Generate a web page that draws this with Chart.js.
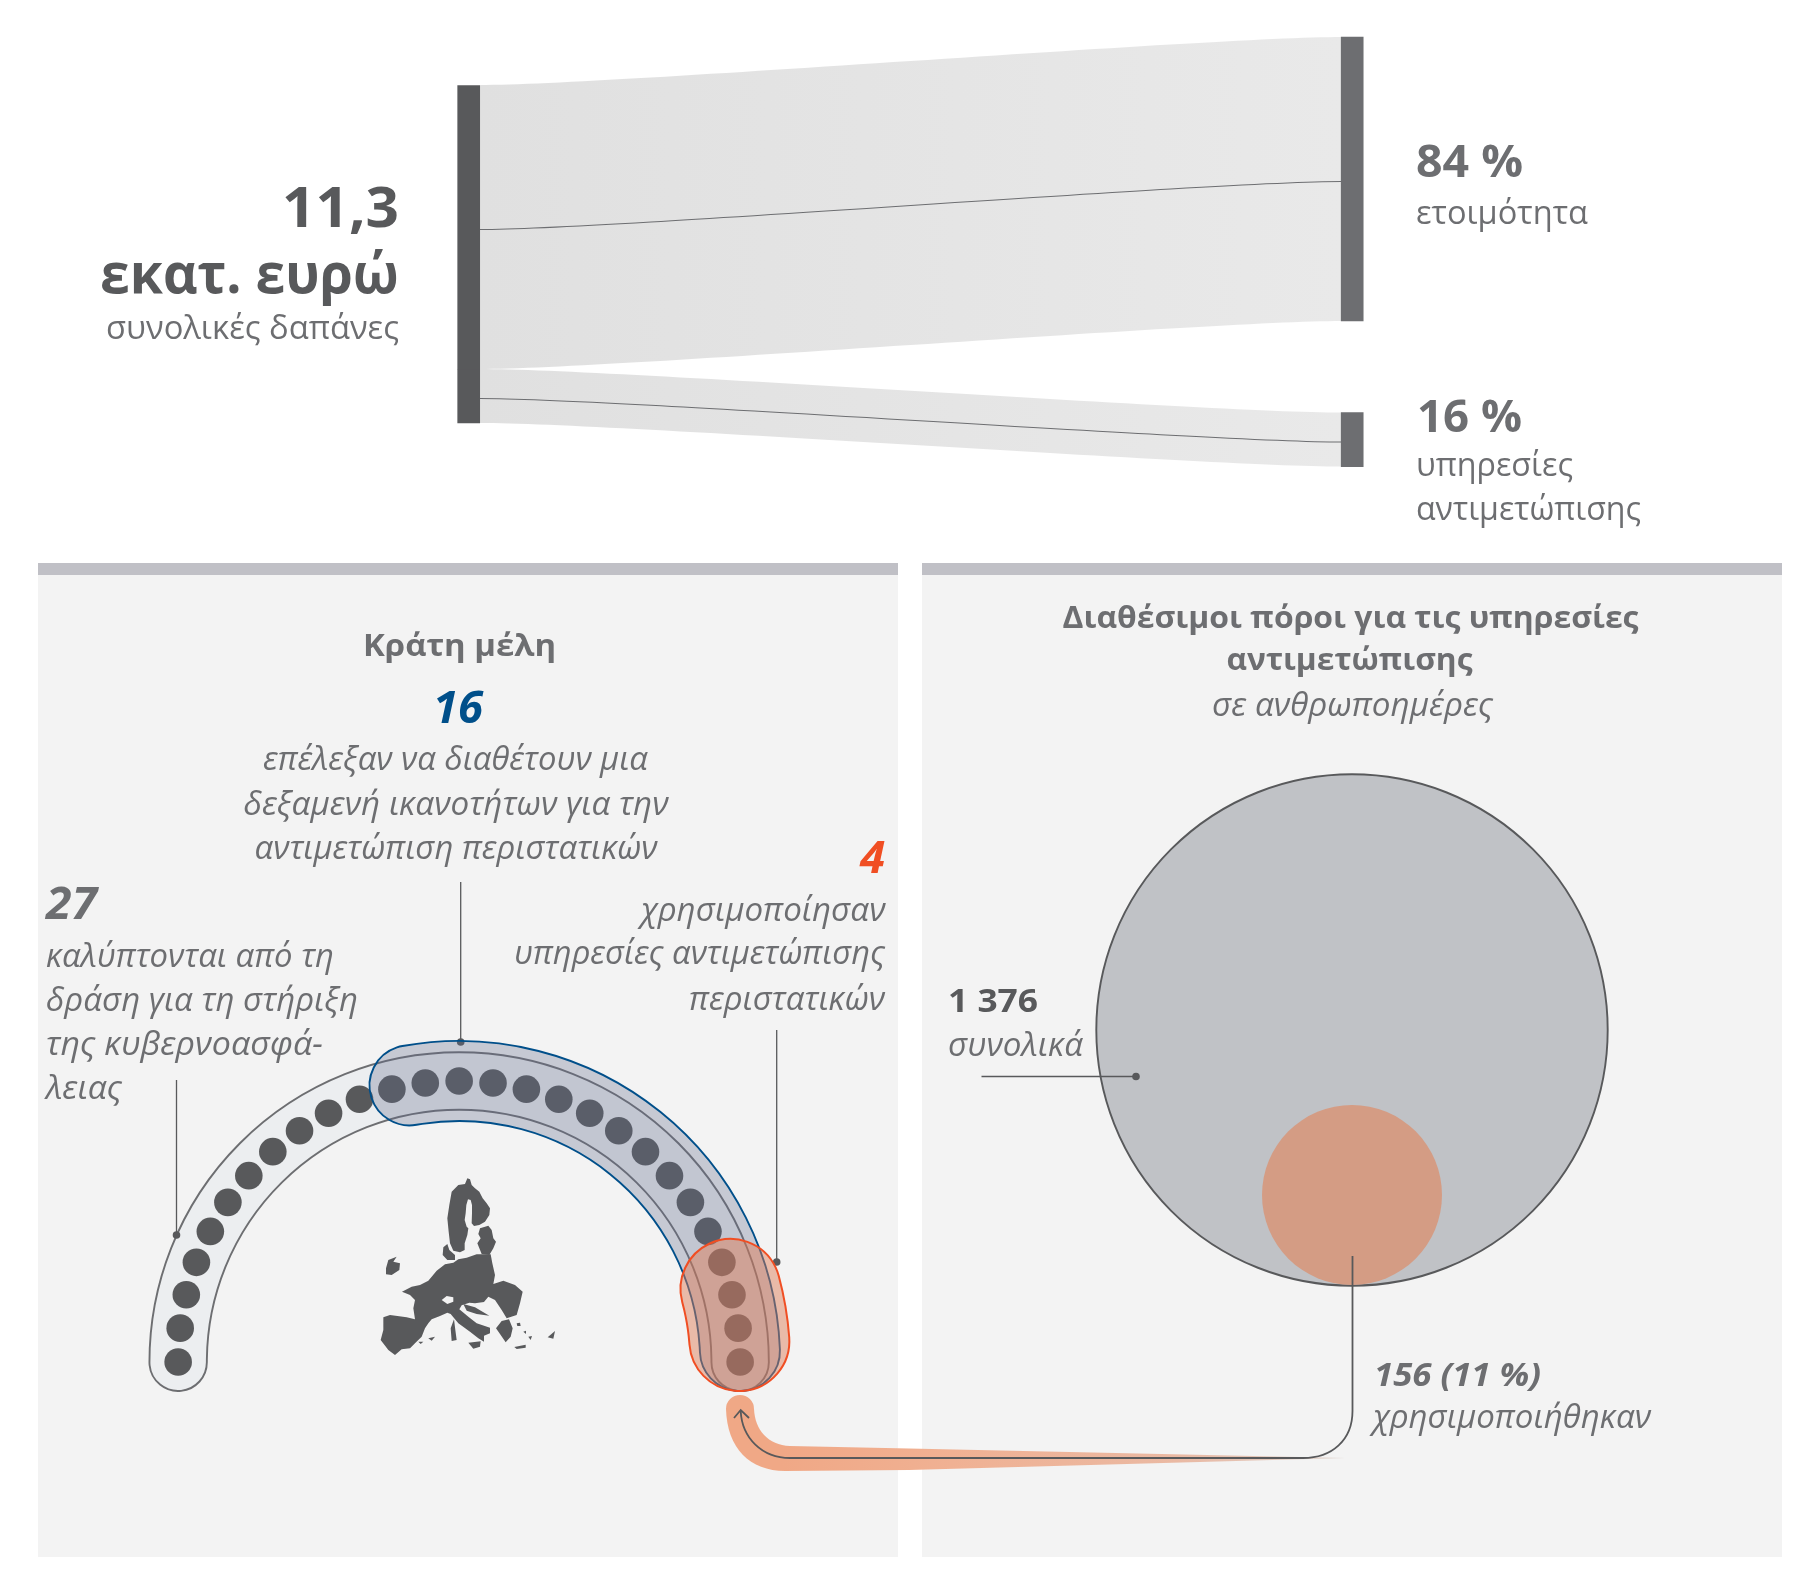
<!DOCTYPE html>
<html>
<head>
<meta charset="utf-8">
<script src="https://cdn.jsdelivr.net/npm/chart.js@4"></script>
<style>
html, body { margin: 0; padding: 0; background: #fff; overflow: hidden; }
#page { position: relative; width: 1818px; height: 1594px; overflow: hidden; }
#page canvas { position: absolute; left: 0; top: 0; }
.panel { position: absolute; top: 563px; height: 994px; width: 860px; background: #f3f3f3; }
.strip { height: 12px; background: #c0c0c6; }
</style>
</head>
<body>
<div id="page">
  <div class="panel" style="left:37.5px"><div class="strip"></div></div>
  <div class="panel" style="left:922px"><div class="strip"></div></div>
  <canvas id="bandAll" width="1818" height="1594"></canvas>
  <canvas id="mainChart" width="1818" height="1594"></canvas>
  <canvas id="bandPool" width="1818" height="1594"></canvas>
  <canvas id="bandUsed" width="1818" height="1594"></canvas>
</div>
<script>
'use strict'
// values
const spendShares = [84, 16];
const shareNames = ['ετοιμότητα', 'υπηρεσίες αντιμετώπισης'];
const statesCovered = 27;
const statesPool = 16;
const statesUsed = 4;
const personDays = [1376, 156];

const INK = '#58595b';
const GREY = '#6d6e71';
const BLUE = '#004f8a';
const RED = '#f04e23';

// sankey layout, px
const leftTop = 85;
const rightTops = [37, 412.5];
const pxPerPct = 3.38;
const linkX0 = 480;
const linkX1 = 1341.5;
const linkBend = 0.15;

// hemicycle layout, px
const hemiX = 459.15;
const hemiY = 1362;
const hemiR = 281;
const slotDeg = 180 / (statesCovered - 1);
const pxPerSlot = hemiR * Math.PI / 180 * slotDeg;

Chart.defaults.animation = false;
Chart.defaults.events = [];

// ---- sankey datasets ----
function sankeyDatasets(ctx) {
    let sets = [];
    let grad = ctx.createLinearGradient(linkX0, 0, linkX1, 0);
    grad.addColorStop(0, '#e0e0e0');
    grad.addColorStop(1, '#e9e9e9');
    let y0 = leftTop;
    spendShares.forEach((share, i) => {
        let h = share * pxPerPct;
        let y1 = rightTops[i];
        sets.push({ type: 'line', sCurve: true, data: [{ x: linkX0, y: y0 }, { x: linkX1, y: y1 }], borderWidth: 0, pointRadius: 0, tension: 0.4, backgroundColor: grad, fill: { target: '+1' }, order: 6 });
        sets.push({ type: 'line', sCurve: true, data: [{ x: linkX0, y: y0 + h }, { x: linkX1, y: y1 + h }], borderWidth: 0, pointRadius: 0, tension: 0.4, fill: false, order: 7 });
        sets.push({ type: 'line', sCurve: true, data: [{ x: linkX0, y: y0 + h / 2 + 2.5 }, { x: linkX1, y: y1 + h / 2 + 2.5 }], borderColor: GREY, borderWidth: 1.1, pointRadius: 0, tension: 0.4, fill: false, order: 5 });
        sets.push({ type: 'bar', data: [{ x: 468.7, y: [y0 + 0.5, y0 + h] }], backgroundColor: INK, barThickness: 22, grouped: false, order: 4 });
        sets.push({ type: 'bar', data: [{ x: 1352.2, y: [y1, y1 + h] }], backgroundColor: GREY, barThickness: 22, grouped: false, order: 4 });
        y0 += h;
    });
    return sets;
}

// one dot per member state, along the half circle
function stateDots() {
    let pts = [];
    for (let i = 0; i < statesCovered; i++) {
        let a = Math.PI - i * slotDeg * Math.PI / 180;
        pts.push({ x: hemiX + hemiR * Math.cos(a), y: hemiY - hemiR * Math.sin(a) });
    }
    return pts;
}

// line elements with two points get a horizontal-tangent link curve
const sCurvePlugin = {
    id: 'sCurve',
    afterDatasetsUpdate(chart) {
        chart.data.datasets.forEach((ds, i) => {
            if (!ds.sCurve) return;
            let meta = chart.getDatasetMeta(i);
            meta.dataset.updateControlPoints(chart.chartArea, 'x');
            let p = meta.data;
            let d = (p[1].x - p[0].x) * linkBend;
            p[0].cp2x = p[0].x + d; p[0].cp2y = p[0].y;
            p[1].cp1x = p[1].x - d; p[1].cp1y = p[1].y;
        });
    }
};

// ---- EU silhouette, traced at 3x around (360,1160) ----
const mapShapes = [
    [322,55,330,58,335,75,345,85,358,95,368,115,380,130,390,145,388,165,375,185,358,195,342,198,335,190,336,160,336,135,332,120,324,118,319,135,317,160,314,180,320,200,325,205,322,225,314,250,314,270,300,277,280,272,270,250,266,215,262,175,268,135,275,95,295,75,315,72],
    [360,205,385,197,395,210,400,235,408,245,400,265,388,285,365,282,352,250,362,235,355,222],
    [250,262,262,252,268,270,285,285,285,300,262,300,248,285],
    [78,325,85,300,110,290,100,305,120,310,118,330,95,345,78,343],
    [392,283,397,310,405,345,400,372,430,362,465,375,488,395,480,430,470,465,440,475,425,450,405,420,385,410,372,426,345,430,328,428,305,436,298,448,325,470,350,490,390,503,390,520,372,527,372,545,355,535,330,515,295,490,272,462,262,458,240,468,215,478,205,490,195,505,185,530,165,550,150,565,125,568,105,585,85,570,62,540,70,510,70,472,90,465,140,472,165,478,160,445,165,420,150,405,126,395,155,380,180,375,205,362,230,332,255,313,280,308,295,298,320,293,350,283],
    [310,432,345,442,388,467,350,462,320,452],
    [408,505,425,483,447,478,458,505,452,530,437,547,420,522],
    [463,561,497,554,497,563,470,567],
    [563,532,585,513,580,536],
    [325,548,362,544,360,560,340,566],
    [272,505,282,478,286,510,290,540,275,543],
    [205,535,225,530,215,542],
    [175,545,190,545,182,552],
    [470,490,480,488,482,498,472,498],
    [490,515,498,512,498,522],
    [505,530,516,528,512,540]
];
const mapHole = [245,420,260,408,280,412,280,425,262,432];

function fillPoly(ctx, pts) {
    ctx.beginPath();
    for (let i = 0; i < pts.length; i += 2) {
        if (i === 0) ctx.moveTo(pts[0], pts[1]);
        else ctx.lineTo(pts[i], pts[i + 1]);
    }
    ctx.closePath();
    ctx.fill();
}

// ---- leader lines, flow arrow, map ----
const decorPlugin = {
    id: 'decor',
    beforeDatasetsDraw(chart) {
        let ctx = chart.ctx;
        ctx.save();
        // tapered orange flow
        let g = ctx.createLinearGradient(783, 0, 1345, 0);
        g.addColorStop(0, '#f0a886');
        g.addColorStop(0.3, '#f0b193');
        g.addColorStop(0.7, '#eab9a3');
        g.addColorStop(1, '#dcd0ca');
        ctx.fillStyle = g;
        ctx.beginPath();
        ctx.moveTo(726, 1409);
        ctx.bezierCurveTo(727, 1448, 750, 1471, 785, 1471);
        ctx.lineTo(909, 1470);
        ctx.lineTo(1345, 1458);
        ctx.lineTo(909, 1448.5);
        ctx.lineTo(790, 1446);
        ctx.bezierCurveTo(768, 1445, 755, 1430, 754, 1409);
        ctx.arc(740, 1409, 14, 0, Math.PI, true);
        ctx.closePath();
        ctx.fill();
        // map
        ctx.save();
        ctx.translate(360, 1160);
        ctx.scale(1 / 3, 1 / 3);
        ctx.fillStyle = INK;
        mapShapes.forEach(s => fillPoly(ctx, s));
        ctx.fillStyle = '#f3f3f3';
        fillPoly(ctx, mapHole);
        ctx.restore();
        ctx.restore();
    },
    afterDatasetsDraw(chart) {
        let ctx = chart.ctx;
        ctx.save();
        ctx.strokeStyle = INK;
        ctx.fillStyle = INK;
        ctx.lineWidth = 1.3;
        let leaders = [
            [176.5, 1080, 176.5, 1235],
            [460.7, 882, 460.7, 1042],
            [776.7, 1030, 776.7, 1262],
            [981.5, 1076.5, 1136, 1076.5]
        ];
        leaders.forEach(l => {
            ctx.beginPath();
            ctx.moveTo(l[0], l[1]);
            ctx.lineTo(l[2], l[3]);
            ctx.stroke();
            ctx.beginPath();
            ctx.arc(l[2], l[3], 3.8, 0, Math.PI * 2);
            ctx.fill();
        });
        // line from the small circle back to the hemicycle
        ctx.lineWidth = 1.8;
        ctx.beginPath();
        ctx.moveTo(1352.5, 1256);
        ctx.lineTo(1352.5, 1411);
        ctx.bezierCurveTo(1352.5, 1440, 1332, 1458, 1303, 1458);
        ctx.lineTo(790, 1458);
        ctx.bezierCurveTo(762, 1458, 742, 1438, 740.7, 1411);
        ctx.stroke();
        ctx.beginPath();
        ctx.moveTo(734, 1418);
        ctx.lineTo(740.7, 1410);
        ctx.lineTo(749, 1418);
        ctx.stroke();
        ctx.restore();
    }
};

// ---- texts: left edge, baseline, ink width, size ----
const texts = [
    { t: '11,3', x: 282, y: 227, w: 117, size: 56, bold: 1, c: INK },
    { t: 'εκατ. ευρώ', x: 100, y: 293, w: 299, size: 56, bold: 1, c: INK },
    { t: 'συνολικές δαπάνες', x: 106, y: 339, w: 293, size: 33, c: GREY },
    { t: spendShares[0] + ' %', x: 1416, y: 177, w: 107, size: 45, bold: 1, c: GREY },
    { t: shareNames[0], x: 1416, y: 224, w: 172, size: 33, c: GREY },
    { t: spendShares[1] + ' %', x: 1417, y: 432, w: 105, size: 45, bold: 1, c: GREY },
    { t: 'υπηρεσίες', x: 1416, y: 476, w: 157, size: 33, c: GREY },
    { t: 'αντιμετώπισης', x: 1416, y: 520, w: 225, size: 33, c: GREY },
    { t: 'Κράτη μέλη', x: 363, y: 656, w: 193, size: 31, bold: 1, c: GREY },
    { t: String(statesPool), x: 433, y: 723, w: 50, size: 44, bold: 1, it: 1, c: BLUE },
    { t: 'επέλεξαν να διαθέτουν μια', x: 263, y: 770, w: 385, size: 32, it: 1, c: GREY },
    { t: 'δεξαμενή ικανοτήτων για την', x: 243.5, y: 815, w: 425, size: 32, it: 1, c: GREY },
    { t: 'αντιμετώπιση περιστατικών', x: 254.5, y: 859, w: 403, size: 32, it: 1, c: GREY },
    { t: String(statesUsed), x: 860, y: 872.5, w: 25, size: 44, bold: 1, it: 1, c: RED },
    { t: 'χρησιμοποίησαν', x: 641, y: 921, w: 244.5, size: 32, it: 1, c: GREY },
    { t: 'υπηρεσίες αντιμετώπισης', x: 514, y: 964, w: 371, size: 32, it: 1, c: GREY },
    { t: 'περιστατικών', x: 689, y: 1010, w: 196, size: 32, it: 1, c: GREY },
    { t: String(statesCovered), x: 46, y: 919, w: 51, size: 44, bold: 1, it: 1, c: GREY },
    { t: 'καλύπτονται από τη', x: 46, y: 967, w: 288, size: 32, it: 1, c: GREY },
    { t: 'δράση για τη στήριξη', x: 46, y: 1011, w: 312, size: 32, it: 1, c: GREY },
    { t: 'της κυβερνοασφά-', x: 46, y: 1055, w: 277, size: 32, it: 1, c: GREY },
    { t: 'λειας', x: 46, y: 1099, w: 76, size: 32, it: 1, c: GREY },
    { t: 'Διαθέσιμοι πόροι για τις υπηρεσίες', x: 1062.5, y: 628, w: 576, size: 31, bold: 1, c: GREY },
    { t: 'αντιμετώπισης', x: 1226.5, y: 670, w: 246, size: 31, bold: 1, c: GREY },
    { t: 'σε ανθρωποημέρες', x: 1212, y: 716, w: 281, size: 32, it: 1, c: GREY },
    { t: '1 376', x: 948, y: 1012, w: 90, size: 33, bold: 1, c: INK },
    { t: 'συνολικά', x: 948, y: 1056, w: 135, size: 32, it: 1, c: GREY },
    { t: '156 (11 %)', x: 1374, y: 1386, w: 167, size: 33, bold: 1, it: 1, c: GREY },
    { t: 'χρησιμοποιήθηκαν', x: 1373, y: 1428, w: 278, size: 32, it: 1, c: GREY }
];

const textPlugin = {
    id: 'pageTexts',
    afterDraw(chart) {
        let ctx = chart.ctx;
        texts.forEach(l => {
            ctx.save();
            ctx.font = (l.it ? 'italic ' : '') + (l.bold ? '700 ' : '400 ') + l.size + 'px "Open Sans"';
            ctx.fillStyle = l.c;
            ctx.textAlign = 'left';
            ctx.textBaseline = 'alphabetic';
            let m = ctx.measureText(l.t);
            ctx.translate(l.x, l.y);
            ctx.scale(l.w / m.width, 1);
            ctx.fillText(l.t, 0, 0);
            ctx.restore();
        });
    }
};

// ---- main chart: pixel-sized hidden axes ----
let mainCtx = document.getElementById('mainChart').getContext('2d');
let datasets = sankeyDatasets(mainCtx);
datasets.push({
    type: 'bubble',
    data: [{ x: 1352, y: 1030, r: 255.7 }],
    backgroundColor: '#c0c2c6', borderColor: INK, borderWidth: 1.9, order: 3
});
datasets.push({
    type: 'bubble',
    data: [{ x: 1352, y: 1195, r: 90 }],
    backgroundColor: '#d49c84', borderWidth: 0, order: 2
});
datasets.push({
    type: 'scatter',
    data: stateDots(),
    backgroundColor: INK, borderWidth: 0, pointRadius: 13.8, showLine: false, order: 1
});

new Chart(mainCtx, {
    type: 'scatter',
    data: { datasets: datasets },
    options: {
        responsive: false,
        layout: { padding: 0, autoPadding: false },
        scales: {
            x: { type: 'linear', min: 0, max: 1818, offset: false, display: false },
            y: { type: 'linear', min: 0, max: 1594, reverse: true, display: false }
        },
        plugins: { legend: { display: false }, tooltip: { enabled: false } }
    },
    plugins: [sCurvePlugin, decorPlugin, textPlugin]
});

// ---- hemicycle bands are doughnut arcs, one slot per state ----
function bandChart(id, count, halfWidth, startCap, fill, stroke, lineW) {
    let first = statesCovered - count;
    let fullCircle = 2 * (statesCovered - 1);
    let capA = startCap / pxPerSlot;
    let capB = 29 / pxPerSlot;
    let span = (count - 1) + capA + capB;
    return new Chart(document.getElementById(id), {
        type: 'doughnut',
        data: {
            datasets: [{
                data: [span, fullCircle - span],
                backgroundColor: [fill, 'rgba(0,0,0,0)'],
                borderColor: [stroke, 'rgba(0,0,0,0)'],
                borderWidth: [lineW, 0],
                borderRadius: [halfWidth, 0],
                borderAlign: 'center',
                clip: false
            }]
        },
        options: {
            responsive: false,
            radius: hemiR + halfWidth,
            cutout: ((hemiR - halfWidth) / (hemiR + halfWidth) * 100) + '%',
            rotation: -90 + (first - capA) * slotDeg,
            circumference: 360,
            layout: { padding: { left: 0, top: 2 * hemiY - 1594, right: 1818 - 2 * hemiX, bottom: 0 } },
            plugins: { legend: { display: false }, tooltip: { enabled: false } }
        }
    });
}

bandChart('bandAll', statesCovered, 28.7, 29, '#eceef0', GREY, 1.9);
bandChart('bandPool', statesPool, 40, 22, 'rgba(95,105,140,0.3)', BLUE, 1.9);
bandChart('bandUsed', statesUsed, 50, 22, 'rgba(222,122,82,0.47)', RED, 2);
</script>
</body>
</html>
